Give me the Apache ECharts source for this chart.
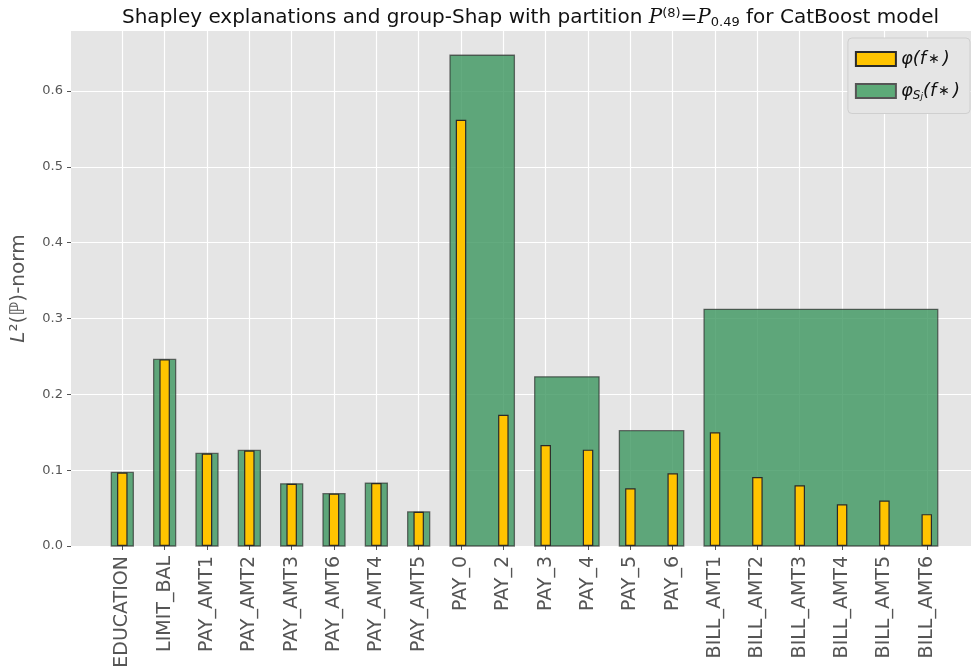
<!DOCTYPE html>
<html>
<head>
<meta charset="utf-8">
<script src="https://cdn.jsdelivr.net/npm/echarts@6/dist/echarts.min.js"></script>
<style>
  html, body { margin: 0; padding: 0; background: #fff; }
  #chart { width: 971px; height: 672px; }
</style>
</head>
<body>
<div id="chart"></div>
<script>
// features in plotting order
var features = ['EDUCATION', 'LIMIT_BAL', 'PAY_AMT1', 'PAY_AMT2', 'PAY_AMT3', 'PAY_AMT6',
  'PAY_AMT4', 'PAY_AMT5', 'PAY_0', 'PAY_2', 'PAY_3', 'PAY_4', 'PAY_5', 'PAY_6',
  'BILL_AMT1', 'BILL_AMT2', 'BILL_AMT3', 'BILL_AMT4', 'BILL_AMT5', 'BILL_AMT6']
// single-feature Shapley values
var shapValues = [0.097, 0.246, 0.122, 0.126, 0.082, 0.069, 0.083, 0.045, 0.562, 0.173,
  0.133, 0.127, 0.076, 0.096, 0.150, 0.091, 0.080, 0.055, 0.060, 0.042]
// group-Shap: first feature index, last feature index, value
var groupStart = [0, 1, 2, 3, 4, 5, 6, 7, 8, 10, 12, 14]
var groupEnd = [0, 1, 2, 3, 4, 5, 6, 7, 9, 11, 13, 19]
var groupValues = [0.097, 0.246, 0.122, 0.126, 0.082, 0.069, 0.083, 0.045, 0.647, 0.223, 0.152, 0.312]
var yTicks = [0, 0.1, 0.2, 0.3, 0.4, 0.5, 0.6]

var featureIdx = features.map(function (f, i) { return i })
var groupData = groupStart.map(function (s, i) { return [s, groupEnd[i], groupValues[i]] })
var shapData = shapValues.map(function (v, i) { return [i, v] })

var HALF = 0.26
var grey = '#555'
var font = 'DejaVu Sans'

var chart = echarts.init(document.getElementById('chart'))
chart.setOption({
  animation: false,
  backgroundColor: '#fff',
  textStyle: { fontFamily: font },
  title: {
    text: 'Shapley explanations and group-Shap with partition {p|P}{sup|(8)}={p|P}{sub|0.49} for CatBoost model',
    left: 117,
    top: 2,
    textStyle: {
      fontSize: 20,
      fontWeight: 'normal',
      color: '#111',
      fontFamily: font,
      rich: {
        p: { fontSize: 20, fontStyle: 'italic', fontFamily: 'DejaVu Serif', color: '#111' },
        sup: { fontSize: 13, verticalAlign: 'top', padding: [0, 0, 9, 0], color: '#111' },
        sub: { fontSize: 13, verticalAlign: 'bottom', padding: [9, 0, 0, 0], color: '#111' }
      }
    }
  },
  legend: {
    right: 1,
    top: 38,
    orient: 'vertical',
    icon: 'rect',
    itemWidth: 40,
    itemHeight: 14,
    itemGap: 14,
    padding: [12, 10, 12, 7],
    backgroundColor: '#e5e5e5',
    borderColor: '#cfcfcf',
    borderWidth: 1,
    borderRadius: 4,
    data: ['shap', 'group'],
    formatter: function (name) {
      return name === 'shap' ? '{i|φ(f}{s|∗}{i|)}' : '{i|φ}{sb|S}{sj|j}{i|(f}{s|∗}{i|)}'
    },
    textStyle: {
      color: '#111',
      fontSize: 18,
      rich: {
        i: { fontSize: 18, fontStyle: 'italic', color: '#111' },
        s: { fontSize: 14, color: '#111', padding: [0, 3, 0, 2] },
        sb: { fontSize: 12, fontStyle: 'italic', color: '#111', verticalAlign: 'bottom', padding: [8, 0, 0, 0] },
        sj: { fontSize: 9, fontStyle: 'italic', color: '#111', verticalAlign: 'bottom', padding: [12, 0, 0, 0] }
      }
    }
  },
  grid: {
    left: 71, right: 0, top: 31, bottom: 126,
    show: true, backgroundColor: '#e5e5e5', borderWidth: 0
  },
  xAxis: {
    type: 'value',
    min: -1.212,
    max: 20.045,
    axisLine: { show: false, onZero: false },
    axisTick: { show: true, length: 4, customValues: featureIdx, lineStyle: { color: grey } },
    splitLine: { show: true, lineStyle: { color: '#fff', width: 1.2 } },
    axisLabel: {
      customValues: featureIdx,
      rotate: 90,
      margin: 10,
      fontSize: 19,
      color: grey,
      formatter: function (v) { return features[Math.round(v)] }
    }
  },
  yAxis: {
    type: 'value',
    min: 0,
    max: 0.679,
    name: '{i|L}²(ℙ)-norm',
    nameLocation: 'middle',
    nameRotate: 90,
    nameGap: 42,
    nameTextStyle: {
      fontSize: 20, color: grey,
      rich: { i: { fontSize: 20, fontStyle: 'italic', color: grey } }
    },
    axisLine: { show: false, onZero: false },
    axisTick: { show: true, length: 4, customValues: yTicks, lineStyle: { color: grey } },
    splitLine: { show: true, lineStyle: { color: '#fff', width: 1.2 } },
    axisLabel: {
      customValues: yTicks,
      fontSize: 13,
      color: grey,
      margin: 8,
      formatter: function (v) { return v.toFixed(1) }
    }
  },
  series: [
    {
      name: 'group',
      type: 'custom',
      data: groupData,
      itemStyle: { color: '#5daa78', borderColor: '#555', borderWidth: 1 },
      renderItem: function (params, api) {
        var p0 = api.coord([api.value(0) - HALF, api.value(2)])
        var p1 = api.coord([api.value(1) + HALF, 0])
        return {
          type: 'rect',
          shape: { x: p0[0], y: p0[1], width: p1[0] - p0[0], height: p1[1] - p0[1] },
          style: { fill: 'rgba(60,150,95,0.8)', stroke: 'rgba(40,40,40,0.65)', lineWidth: 1.3 }
        }
      },
      encode: { x: [0, 1], y: 2 },
      z: 2
    },
    {
      name: 'shap',
      type: 'bar',
      data: shapData,
      barWidth: 10.5,
      itemStyle: { color: '#ffc400', borderColor: '#2a2a2a', borderWidth: 1.2 },
      z: 3
    }
  ]
})
</script>
</body>
</html>
